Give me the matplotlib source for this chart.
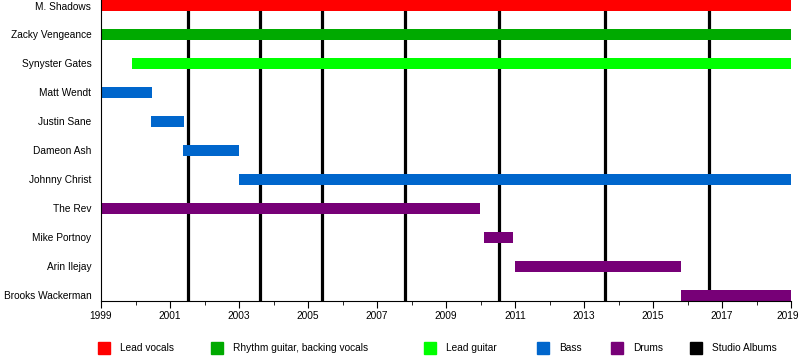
import matplotlib.pyplot as plt
from matplotlib.patches import Rectangle
from matplotlib.ticker import FixedLocator, MultipleLocator
from matplotlib.transforms import ScaledTranslation

plt.rcParams['font.family'] = ['Liberation Sans', 'DejaVu Sans']

# Участники группы и периоды
members = ['M. Shadows', 'Zacky Vengeance', 'Synyster Gates', 'Matt Wendt',
           'Justin Sane', 'Dameon Ash', 'Johnny Christ', 'The Rev',
           'Mike Portnoy', 'Arin Ilejay', 'Brooks Wackerman']
starts = [1999.0, 1999.0, 1999.9, 1999.0, 2000.45, 2001.38, 2003.0, 1999.0,
          2010.1, 2011.0, 2015.81]
ends = [2019.0, 2019.0, 2019.0, 2000.48, 2001.42, 2002.99, 2019.0, 2009.99,
        2010.94, 2015.81, 2019.0]
roles = ['Lead vocals', 'Rhythm guitar, backing vocals', 'Lead guitar',
         'Bass', 'Bass', 'Bass', 'Bass', 'Drums', 'Drums', 'Drums', 'Drums']

# Студийные альбомы
albums = [2001.53, 2003.62, 2005.4, 2007.8, 2010.55, 2013.62, 2016.63]

years = list(range(1999, 2020, 2))

role_names = ['Lead vocals', 'Rhythm guitar, backing vocals', 'Lead guitar',
              'Bass', 'Drums', 'Studio Albums']
role_colors = ['#ff0000', '#00aa00', '#00ff00', '#0066cc', '#770077', '#000000']
color_of = dict(zip(role_names, role_colors))

fig = plt.figure(figsize=(8, 3.6), dpi=100)
ax = fig.add_axes([101 / 800, 1 - 301 / 360, 690 / 800, 301 / 360])

for x in albums:
    ax.axvline(x, color='black', linewidth=2.3, zorder=1)

ax.barh(range(len(members)), [e - s for s, e in zip(starts, ends)],
        left=starts, height=0.38,
        color=[color_of[r] for r in roles], zorder=2)

ax.set_xlim(1999, 2019)
ax.set_ylim(len(members) - 1 + 0.2, -0.19)
ax.set_yticks(range(len(members)))
ax.set_yticklabels(members, fontsize=7.3)
ax.tick_params(axis='y', length=0, pad=7)
ax.xaxis.set_major_locator(FixedLocator(years))
ax.xaxis.set_minor_locator(MultipleLocator(1))
ax.tick_params(axis='x', which='major', length=5, labelsize=7.3, pad=2)
ax.tick_params(axis='x', which='minor', length=3)
for s in ['top', 'right']:
    ax.spines[s].set_visible(False)

# последнюю подпись чуть сдвигаем влево, чтобы не обрезалась
last = ax.get_xticklabels()[-1]
last.set_transform(last.get_transform() + ScaledTranslation(-3 / 100, 0, fig.dpi_scale_trans))

# Легенда вручную
legend_x = [98, 211, 424, 537, 611, 690]
for name, col, lx in zip(role_names, role_colors, legend_x):
    fig.patches.append(Rectangle((lx / 800, 1 - 354 / 360), 12 / 800, 12 / 360,
                                 transform=fig.transFigure, color=col))
    fig.text((lx + 22) / 800, 1 - 348 / 360, name, fontsize=7.3, va='center')

fig.savefig('out.png', dpi=100)
